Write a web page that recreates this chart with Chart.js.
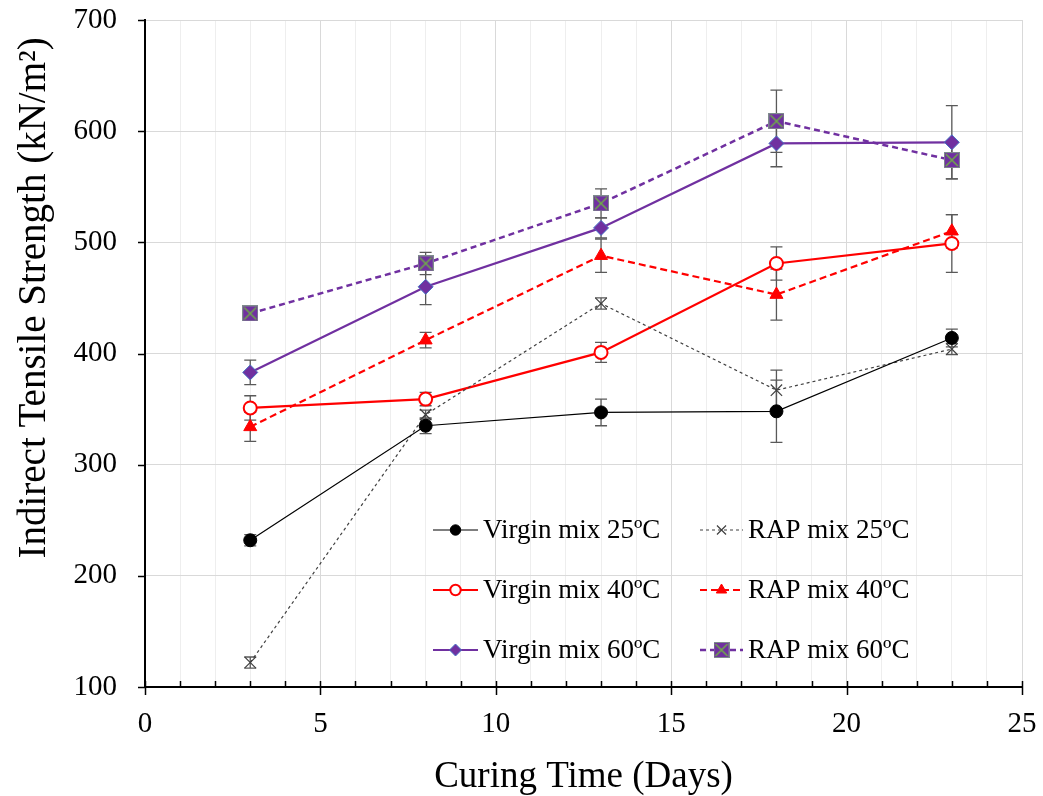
<!DOCTYPE html>
<html>
<head>
<meta charset="utf-8">
<script src="https://cdn.jsdelivr.net/npm/chart.js@4.4.1/dist/chart.umd.min.js"></script>
<style>
  body { margin: 0; background: #fff; }
  canvas { display: block; }
</style>
</head>
<body>
<canvas id="myChart" width="1043" height="796"></canvas>
<script>
// curing time (days)
const days = [3, 8, 13, 18, 23];

// indirect tensile strength values and error bars (kN/m2)
const virgin25 = [232, 335, 347, 348, 414];
const virgin25Err = [5, 7, 12, 28, 8];
const rap25 = [122, 345, 445, 367, 404];
const rap25Err = [5, 4, 5, 18, 5];
const virgin40 = [351, 359, 401, 481, 499];
const virgin40Err = [11, 6, 9, 15, 26];
const rap40 = [334, 412, 488, 453, 510];
const rap40Err = [13, 7, 15, 23, 15];
const virgin60 = [383, 460, 513, 589, 590];
const virgin60Err = [11, 16, 9, 21, 33];
const rap60 = [436, 481, 535, 609, 574];
const rap60Err = [3, 10, 13, 28, 17];

const xTicks = [0, 5, 10, 15, 20, 25];
const yTicks = [100, 200, 300, 400, 500, 600, 700];
const yTitle = 'Indirect Tensile Strength (kN/m²)';

const FONT = "'Liberation Serif', 'Times New Roman', serif";
const PURPLE = '#7030A0';

// purple square with green cross for RAP 60
const sq = document.createElement('canvas');
sq.width = 16; sq.height = 16;
{
    const c = sq.getContext('2d');
    c.fillStyle = PURPLE;
    c.fillRect(0, 0, 16, 16);
    c.strokeStyle = '#7f8c8d';
    c.lineWidth = 1;
    c.strokeRect(0.5, 0.5, 15, 15);
    c.strokeStyle = '#70AD47';
    c.lineWidth = 1.5;
    c.beginPath();
    c.moveTo(2, 2); c.lineTo(14, 14);
    c.moveTo(14, 2); c.lineTo(2, 14);
    c.stroke();
}

const pts = (ys) => days.map((d, i) => ({ x: d, y: ys[i] }));

const datasets = [
    { label: 'Virgin mix 25ºC', data: pts(virgin25), errors: virgin25Err,
      borderColor: '#000', borderWidth: 1.2, pointStyle: 'circle', pointRadius: 6.5,
      pointBackgroundColor: '#000', pointBorderColor: '#000', pointBorderWidth: 1, legendCol: 0, legendRow: 0 },
    { label: 'RAP mix 25ºC', data: pts(rap25), errors: rap25Err,
      borderColor: '#404040', borderWidth: 1.2, borderDash: [3, 3], pointStyle: 'crossRot', pointRadius: 8,
      pointBorderColor: '#404040', pointBorderWidth: 1.2, legendCol: 1, legendRow: 0 },
    { label: 'Virgin mix 40ºC', data: pts(virgin40), errors: virgin40Err,
      borderColor: '#ff0000', borderWidth: 2.2, pointStyle: 'circle', pointRadius: 6.5,
      pointBackgroundColor: '#fff', pointBorderColor: '#ff0000', pointBorderWidth: 2, legendCol: 0, legendRow: 1 },
    { label: 'RAP mix 40ºC', data: pts(rap40), errors: rap40Err,
      borderColor: '#ff0000', borderWidth: 2.2, borderDash: [7, 4], pointStyle: 'triangle', pointRadius: 7.5,
      pointBackgroundColor: '#ff0000', pointBorderColor: '#ff0000', pointBorderWidth: 1, legendCol: 1, legendRow: 1 },
    { label: 'Virgin mix 60ºC', data: pts(virgin60), errors: virgin60Err,
      borderColor: PURPLE, borderWidth: 2.2, pointStyle: 'rectRot', pointRadius: 7.5,
      pointBackgroundColor: PURPLE, pointBorderColor: '#4472C4', pointBorderWidth: 1, legendCol: 0, legendRow: 2 },
    { label: 'RAP mix 60ºC', data: pts(rap60), errors: rap60Err,
      borderColor: PURPLE, borderWidth: 2.5, borderDash: [6, 4], pointStyle: sq, pointRadius: 8,
      legendCol: 1, legendRow: 2 }
];

// error bars under the series
const errorBars = {
    id: 'errorBars',
    beforeDatasetsDraw(chart) {
        const ctx = chart.ctx, y = chart.scales.y;
        ctx.save();
        ctx.strokeStyle = '#595959';
        ctx.lineWidth = 1.3;
        chart.data.datasets.forEach((ds, di) => {
            const meta = chart.getDatasetMeta(di);
            meta.data.forEach((pt, i) => {
                const v = ds.data[i].y, e = ds.errors[i];
                const top = y.getPixelForValue(v + e), bot = y.getPixelForValue(v - e);
                ctx.beginPath();
                ctx.moveTo(pt.x, top); ctx.lineTo(pt.x, bot);
                ctx.moveTo(pt.x - 6, top); ctx.lineTo(pt.x + 6, top);
                ctx.moveTo(pt.x - 6, bot); ctx.lineTo(pt.x + 6, bot);
                ctx.stroke();
            });
        });
        ctx.restore();
    }
};

// tick marks on the axes + y axis title (sits above centre in the original)
const axisTicks = {
    id: 'axisTicks',
    afterDraw(chart) {
        const ctx = chart.ctx, x = chart.scales.x, y = chart.scales.y;
        const a = chart.chartArea;
        ctx.save();
        ctx.strokeStyle = '#000';
        ctx.lineWidth = 1.5;
        ctx.beginPath();
        for (let d = 0; d <= 25; d++) {
            const px = Math.round(x.getPixelForValue(d)) + 0.5;
            ctx.moveTo(px, a.bottom - 6);
            ctx.lineTo(px, xTicks.includes(d) ? a.bottom + 8 : a.bottom);
        }
        yTicks.forEach(v => {
            const py = Math.round(y.getPixelForValue(v)) + 0.5;
            ctx.moveTo(a.left - 7, py);
            ctx.lineTo(a.left, py);
        });
        ctx.stroke();

        ctx.translate(35, y.getPixelForValue(450));
        ctx.rotate(-Math.PI / 2);
        ctx.font = '39px ' + FONT;
        ctx.fillStyle = '#000';
        ctx.textAlign = 'center';
        ctx.textBaseline = 'middle';
        ctx.fillText(yTitle, 0, 0);
        ctx.restore();
    }
};

// legend inside the plot, two columns
const innerLegend = {
    id: 'innerLegend',
    afterDraw(chart) {
        const ctx = chart.ctx;
        const cols = [{ l0: 433, l1: 478, t: 483 }, { l0: 700, l1: 743, t: 748 }];
        const rows = [530, 590, 650];
        ctx.save();
        ctx.font = '27px ' + FONT;
        ctx.textBaseline = 'middle';
        ctx.fillStyle = '#000';
        chart.data.datasets.forEach(ds => {
            const c = cols[ds.legendCol], yy = rows[ds.legendRow];
            ctx.save();
            ctx.strokeStyle = ds.borderColor;
            ctx.lineWidth = ds.borderWidth;
            ctx.setLineDash(ds.borderDash || []);
            ctx.beginPath();
            ctx.moveTo(c.l0, yy); ctx.lineTo(c.l1, yy);
            ctx.stroke();
            ctx.setLineDash([]);
            ctx.fillStyle = ds.pointBackgroundColor || ds.borderColor;
            ctx.strokeStyle = ds.pointBorderColor || ds.borderColor;
            ctx.lineWidth = ds.pointBorderWidth || 1;
            Chart.helpers.drawPoint(ctx, {
                pointStyle: ds.pointStyle, radius: ds.pointRadius * 0.8, rotation: 0,
                borderWidth: ds.pointBorderWidth || 1
            }, (c.l0 + c.l1) / 2, yy);
            ctx.restore();
            ctx.fillText(ds.label, c.t, yy + 1);
        });
        ctx.restore();
    }
};

new Chart(document.getElementById('myChart').getContext('2d'), {
    type: 'scatter',
    data: { datasets: datasets.map(d => Object.assign({ showLine: true, fill: false, tension: 0 }, d)) },
    options: {
        responsive: false,
        animation: false,
        devicePixelRatio: 1,
        layout: { padding: { top: 20, right: 21, left: 0, bottom: 0 } },
        plugins: { legend: { display: false }, tooltip: { enabled: false } },
        scales: {
            x: {
                type: 'linear', min: 0, max: 25,
                afterFit: s => { s.height = 109; s.paddingLeft = 0; s.paddingRight = 0; },
                afterBuildTicks: s => { s.ticks = Array.from({ length: 26 }, (_, i) => ({ value: i })); },
                ticks: {
                    autoSkip: false, maxRotation: 0, padding: 12, color: '#000',
                    font: { family: FONT, size: 29 },
                    callback: v => xTicks.includes(v) ? String(v) : ''
                },
                grid: {
                    color: c => (c.tick && c.tick.value % 5 === 0) ? '#d9d9d9' : '#eeeeee',
                    lineWidth: 1, tickColor: 'transparent', tickLength: 8
                },
                border: { color: '#000', width: 2 },
                title: {
                    display: true, text: 'Curing Time (Days)', color: '#000',
                    font: { family: FONT, size: 37, lineHeight: 1 }, padding: { top: 0, bottom: 0 }
                }
            },
            y: {
                min: 100, max: 700,
                afterFit: s => { s.width = 145; s.paddingTop = 0; s.paddingBottom = 0; },
                ticks: {
                    stepSize: 100, padding: 20, color: '#000',
                    font: { family: FONT, size: 29 }
                },
                grid: { color: '#d9d9d9', lineWidth: 1, tickColor: 'transparent', tickLength: 8 },
                border: { color: '#000', width: 2 },
                title: { display: false }
            }
        }
    },
    plugins: [errorBars, axisTicks, innerLegend]
});
</script>
</body>
</html>
